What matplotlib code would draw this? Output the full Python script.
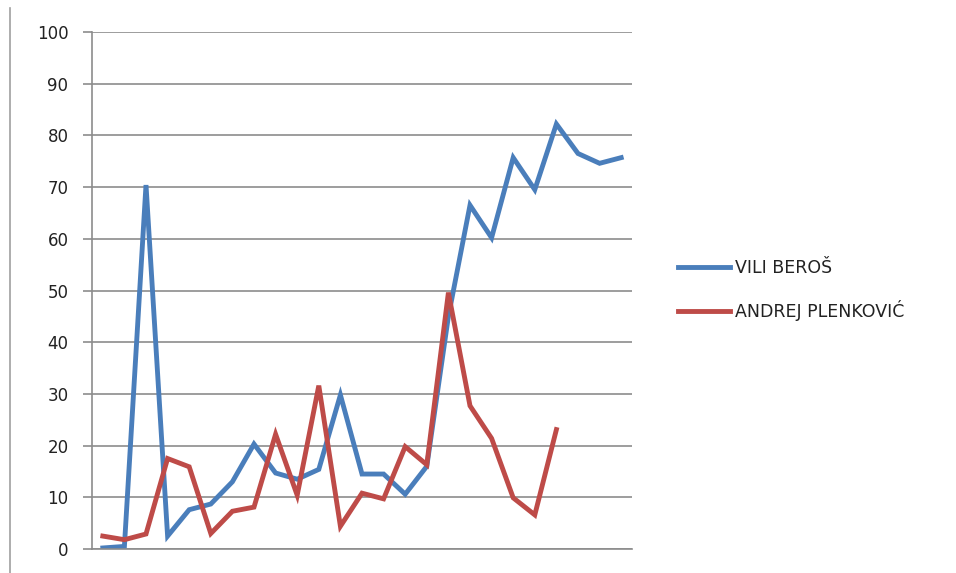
import matplotlib
matplotlib.use("Agg")
import matplotlib.pyplot as plt
from matplotlib.lines import Line2D

# values
positions = list(range(1, 26))
vili_beros = [0.2, 0.5, 70.4, 2.5, 7.6, 8.7, 13.0, 20.3, 14.7, 13.5, 15.4, 29.8,
              14.5, 14.5, 10.6, 16.0, 45.0, 66.5, 60.2, 75.7, 69.5, 82.2, 76.5,
              74.6, 75.7]
andrej_plenkovic = [2.5, 1.8, 2.9, 17.5, 15.9, 3.0, 7.3, 8.1, 22.2, 10.4, 31.6,
                    4.4, 10.8, 9.7, 19.8, 16.3, 49.6, 27.7, 21.4, 9.9, 6.6, 23.1]
series_names = ["VILI BEROŠ", "ANDREJ PLENKOVIĆ"]
y_ticks = [0, 10, 20, 30, 40, 50, 60, 70, 80, 90, 100]

blue = "#4a7ebb"
red = "#be4b48"
grid_col = "#8c8c8c"

fig = plt.figure(figsize=(9.56, 5.73), dpi=100)
ax = fig.add_axes([92 / 956, 1 - 549 / 573, 540 / 956, 517 / 573])

ax.plot(positions, vili_beros, color=blue, linewidth=3.5,
        solid_joinstyle="miter", label=series_names[0])
ax.plot(positions[:len(andrej_plenkovic)], andrej_plenkovic, color=red,
        linewidth=3.5, solid_joinstyle="miter", label=series_names[1])

ax.set_xlim(0.5, 25.5)
ax.set_ylim(0, 100)
ax.set_yticks(y_ticks)
ax.set_yticklabels([str(t) for t in y_ticks], fontsize=12, color="#222222")
ax.set_xticks([])
ax.yaxis.grid(True, color=grid_col, linewidth=1.2)
ax.set_axisbelow(True)
ax.tick_params(axis="y", length=6.5, width=1.2, color=grid_col, pad=10.5)

for side in ["top", "right"]:
    ax.spines[side].set_visible(False)
ax.spines["left"].set_color(grid_col)
ax.spines["left"].set_linewidth(1.2)
ax.spines["bottom"].set_color(grid_col)
ax.spines["bottom"].set_linewidth(1.2)

# left frame line of the chart area
fig.add_artist(Line2D([10 / 956, 10 / 956], [0, 1 - 8 / 573],
                      color="#a0a0a0", linewidth=1.2))

leg = fig.legend(loc="upper left", bbox_to_anchor=(662 / 956, 1 - 243 / 573),
                 frameon=False, fontsize=12.5, handlelength=3.0,
                 handletextpad=0.3, labelspacing=1.35)
for t in leg.get_texts():
    t.set_color("#222222")

fig.savefig("out.png", dpi=100)
